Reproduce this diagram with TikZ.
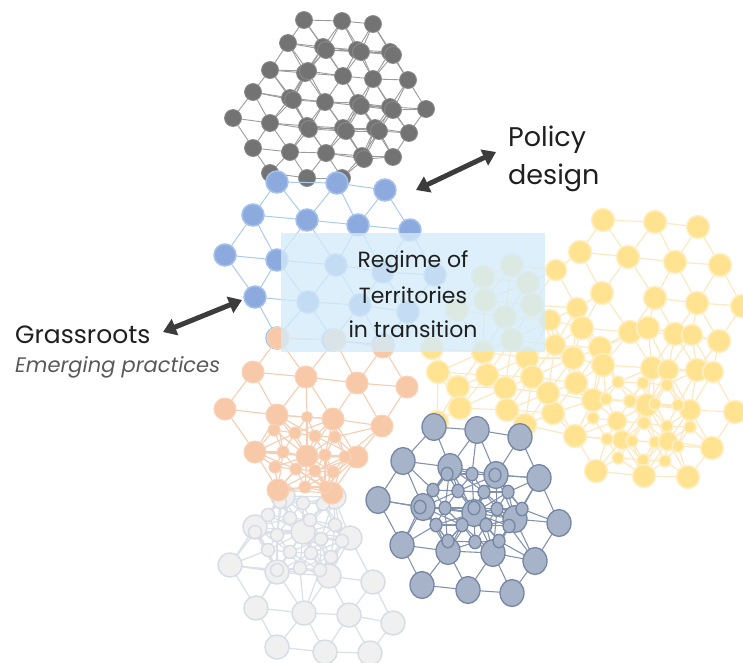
\documentclass[tikz,border=0pt]{standalone}
\usepackage{fontspec}
\setmainfont{Poppins}
\usetikzlibrary{arrows.meta,shapes.geometric}

\definecolor{yelfill}{HTML}{FFE391}
\definecolor{yelline}{HTML}{FFEFC4}
\definecolor{yeledge}{HTML}{FCE9C2}
\definecolor{gryfill}{HTML}{737373}
\definecolor{gryline}{HTML}{8C8C8C}
\definecolor{gryedge}{HTML}{9B9B9B}
\definecolor{lgrfill}{HTML}{F0F0F0}
\definecolor{lgrline}{HTML}{D8DDE5}
\definecolor{lgredge}{HTML}{DCE1E9}
\definecolor{blufill}{HTML}{8DAADF}
\definecolor{bluline}{HTML}{A4C1EC}
\definecolor{bluedge}{HTML}{AACBEE}
\definecolor{orgfill}{HTML}{F7C9A8}
\definecolor{orgline}{HTML}{F9D3B8}
\definecolor{orgedge}{HTML}{F6CDB3}
\definecolor{slafill}{HTML}{A6B3C8}
\definecolor{slaline}{HTML}{7587A4}
\definecolor{slaedge}{HTML}{8393AE}
\definecolor{boxfill}{HTML}{D3EBF9}
\definecolor{arrowgray}{HTML}{3C3C3C}

% one cluster: prefix, node style, edge style, reach factor, list x/y/size
\newcommand\netcluster[5]{%
  \foreach \x/\y/\sa [count=\i] in {#5}{\coordinate (#1\i) at (\x,\y);}
  \foreach \x/\y/\sa [count=\i] in {#5}{%
    \foreach \u/\v/\sb [count=\j] in {#5}{%
      \ifnum\j>\i\relax
        \pgfmathsetmacro\gap{veclen(\u-\x,\v-\y)-#4*(\sa+\sb)}%
        \ifdim\gap pt<0pt\relax \draw[#3] (#1\i) -- (#1\j);\fi
      \fi}}
  \foreach \x/\y/\sa [count=\i] in {#5}{\node[#2=\sa] (#1n\i) at (#1\i) {};}%
}

\tikzset{
  yelnode/.style={circle, fill=yelfill, draw=yelline, line width=1.5pt, inner sep=0pt, minimum size=#1pt},
  grynode/.style={circle, fill=gryfill, draw=gryline, line width=0.8pt, inner sep=0pt, minimum size=#1pt},
  lgrnode/.style={circle, fill=lgrfill, draw=lgrline, line width=1.5pt, inner sep=0pt, minimum size=#1pt},
  blunode/.style={circle, fill=blufill, draw=bluline, line width=1.5pt, inner sep=0pt, minimum size=#1pt},
  orgnode/.style={circle, fill=orgfill, draw=orgline, line width=1pt, inner sep=0pt, minimum size=#1pt},
  slanode/.style={ellipse, fill=slafill, draw=slaline, line width=1.3pt, inner sep=0pt,
    minimum width=#1pt, minimum height={1.12*#1pt}},
  yeledge/.style={draw=yeledge, line width=1.2pt},
  gryedge/.style={draw=gryedge, line width=0.9pt},
  lgredge/.style={draw=lgredge, line width=1.3pt},
  bluedge/.style={draw=bluedge, line width=1pt},
  orgedge/.style={draw=orgedge, line width=1.1pt},
  slaedge/.style={draw=slaedge, line width=1.1pt},
  bigarrow/.style={draw=arrowgray, line width=5pt,
    {Triangle[length=13pt,width=17pt]}-{Triangle[length=13pt,width=17pt]}},
  caption/.style={inner sep=0pt, text=black!88},
}

\begin{document}
\begin{tikzpicture}[x=1pt, y=-1pt]
\useasboundingbox (0,0) rectangle (743,662);

% yellow network
\netcluster{yel}{yelnode}{yeledge}{1.15}{
  603/220/23, 655/222/23, 698/227/23,
  580/252/23, 628/257/23, 675/262/23, 720/265/23,
  556/270/21, 602/293/23, 655/298/23, 697/303/23, 742/306/23,
  577/308/21, 550/320/21, 582/328/23, 630/332/23, 648/328/23, 675/334/23, 692/335/21, 719/341/23,
  555/345/21, 573/358/23, 600/348/23, 603/365/23, 652/368/23, 668/370/21, 697/370/23, 713/372/21,
  576/383/23, 593/400/23, 553/413/23, 647/405/23, 690/410/21, 735/412/23,
  618/382/12, 643/383/12, 667/385/12, 606/399/12, 630/401/13, 655/404/12, 678/405/12,
  593/418/12, 617/421/19, 644/423/13, 667/426/12, 690/427/12,
  607/439/12, 622/440/19, 632/441/12, 655/442/12, 668/441/19, 678/446/12,
  618/458/12, 643/460/12, 665/461/12,
  575/436/23, 712/448/23, 596/471/23, 644/476/23, 688/477/23,
  512/265/23, 483/277/23, 528/283/23, 485/300/23, 532/305/23, 457/310/23, 505/317/23,
  432/348/23, 483/352/23, 512/340/23, 527/358/23, 438/372/23, 487/375/23, 532/377/23,
  505/388/23, 458/387/23, 548/393/23, 460/408/23, 507/410/23, 437/422/23, 525/425/23}

% dark gray network
\netcluster{gry}{grynode}{gryedge}{1.25}{
  304/20/17, 342/21/17, 373/24/17,
  288/43/17, 323/47/17, 326/50/17, 357/50/17, 361/52/17, 390/52/17, 393/55/17,
  270/70/17, 305/73/17, 308/71/17, 343/76/17, 373/79/17, 408/80/17,
  253/92/17, 290/98/17, 293/100/17, 325/102/17, 358/103/17, 361/106/17, 390/107/17, 393/110/17, 426/109/17,
  233/118/17, 270/123/17, 307/126/17, 309/129/17, 343/128/17, 346/131/17, 375/128/17, 379/131/17, 409/133/17,
  253/148/17, 290/152/17, 326/153/17, 362/156/17, 364/159/17, 393/157/17,
  270/173/17, 307/178/17, 342/178/17}

% light gray network
\netcluster{lgr}{lgrnode}{lgredge}{1.3}{
  283/496/24, 334/497/24,
  255/527/24, 303/532/24, 350/538/24,
  230/565/24, 277/572/24, 329/576/24, 373/582/24,
  256/608/24, 304/613/24, 349/615/24, 393/623/24,
  277/647/24, 325/652/24, 370/653/24,
  280/502/13, 303/503/13, 323/504/13, 268/515/13, 290/518/13, 310/520/13, 335/525/13,
  255/532/13, 277/535/13, 321/539/13, 342/541/13,
  268/550/13, 290/552/13, 311/553/13, 331/557/13, 277/570/13, 300/568/13, 320/570/13}

% blue network
\netcluster{blu}{blunode}{bluedge}{1.45}{
  277/182/22, 337/183/22, 385/190/22,
  253/215/22, 307/220/22, 358/225/22, 410/230/22,
  225/255/22, 277/260/22, 336/265/22, 383/272/22, 435/275/22,
  255/297/22, 308/302/22, 360/305/22, 408/312/22,
  277/338/22, 333/340/22, 383/345/22}

% orange network
\netcluster{org}{orgnode}{orgedge}{1.45}{
  278/338/22, 335/340/22, 383/347/22,
  253/372/22, 306/377/22, 357/383/22, 407/387/22,
  225/409/22, 277/415/22, 333/419/22, 382/426/22,
  255/452/22, 307/456/22, 357/457/22,
  278/490/22, 332/493/22,
  307/417/11, 274/430/12, 295/433/12, 315/436/12, 335/437/12,
  283/452/12, 325/455/12, 345/457/12,
  275/467/12, 296/469/12, 315/471/12, 333/472/12,
  305/487/12, 325/487/12}

% slate network
\netcluster{sla}{slanode}{slaedge}{1.25}{
  434/427/24, 477/430/24, 520/437/24,
  403/461/24, 450/467/24, 496/475/24, 539/478/24,
  378/500/24, 423/507/24, 474/513/24, 515/519/24, 559/523/24,
  402/545/24, 448/551/24, 493/553/24, 535/561/24,
  422/585/24, 468/590/24, 512/593/24,
  447/474/12, 472/474/12, 495/475/12,
  433/490/12, 458/491/12, 484/492/12, 508/492/12,
  420/507/12, 445/508/12, 474/508/12, 497/509/12, 522/509/12,
  436/525/12, 462/525/12, 486/525/12, 509/526/12,
  448/541/12, 475/542/12, 499/541/12}

% regime box
\node[fill=boxfill, fill opacity=0.78, inner sep=0pt, minimum width=264pt, minimum height=119pt]
  (regimebox) at (413,292.5) {};
\node[caption, anchor=base, font=\fontsize{22}{26}\selectfont] (regime1) at (413,267) {Regime of};
\node[caption, anchor=base, font=\fontsize{22}{26}\selectfont] (regime2) at (413,303) {Territories};
\node[caption, anchor=base, font=\fontsize{22}{26}\selectfont] (regime3) at (413,337) {in transition};

% labels
\node[caption, anchor=base west, font=\fontsize{27}{32}\selectfont] (policy) at (508,146) {Policy};
\node[caption, anchor=base west, font=\fontsize{27}{32}\selectfont] (design) at (508,184) {design};
\node[caption, anchor=base west, font=\fontsize{25}{30}\selectfont] (grassroots) at (15,343) {Grassroots};
\node[caption, anchor=base west, text=black!65, font=\fontsize{21}{26}\selectfont\itshape] (emerging) at (15,372) {Emerging practices};

% arrows
\coordinate (policy-a) at (416,190);
\coordinate (policy-b) at (496,152);
\coordinate (grass-a) at (163,332);
\coordinate (grass-b) at (242,300);
\draw[bigarrow] (policy-a) -- (policy-b);
\draw[bigarrow] (grass-a) -- (grass-b);
\end{tikzpicture}
\end{document}
